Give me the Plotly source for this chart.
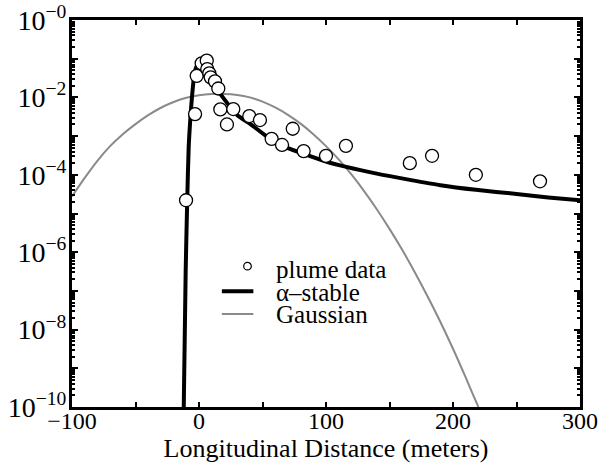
import plotly.graph_objects as go

# plume data (x in meters, concentration)
plume_x = [-10.2, -3.1, -1.8, 2.1, 6.1, 6.5, 8.1, 9.2, 12.6, 15.2, 16.8, 27.0, 22.0,
           39.6, 48.0, 73.8, 57.2, 65.4, 82.4, 100.0, 115.7, 166.0, 183.5, 218.0, 268.5]
plume_y = [2.2e-5, 3.7e-3, 3.6e-2, 7.6e-2, 8.9e-2, 5.4e-2, 4.2e-2, 3.3e-2, 2.6e-2, 1.7e-2,
           4.9e-3, 5.0e-3, 2.0e-3, 3.3e-3, 2.6e-3, 1.55e-3, 8.5e-4, 5.9e-4, 4.1e-4, 3.1e-4,
           5.6e-4, 2.0e-4, 3.1e-4, 1.0e-4, 6.8e-5]

# alpha-stable fit curve
stable_x = [-12.0, -10.5, -9.3, -8.1, -6.5, -5.5, -4.2, -2.5, -0.5, 2.0, 5.0, 10.0, 14.0,
            20.0, 30.0, 40.0, 53.0, 66.0, 82.0, 100.0, 116.0, 140.0, 166.0, 190.0, 218.0,
            250.0, 275.0, 300.0]
stable_y = [1e-10, 3.2e-7, 2.0e-5, 5.4e-4, 4.0e-3, 1.05e-2, 2.8e-2, 5.6e-2, 7.9e-2, 8.3e-2,
            6.3e-2, 3.2e-2, 1.7e-2, 8.9e-3, 3.5e-3, 2.1e-3, 1.0e-3, 5.6e-4, 3.5e-4, 2.2e-4,
            1.6e-4, 1.07e-4, 7.4e-5, 5.4e-5, 4.1e-5, 3.2e-5, 2.6e-5, 2.2e-5]

# Gaussian fit curve
gauss_x = [-100, -90, -80, -70, -60, -50, -40, -30, -20, -10, 0, 10, 20, 30, 40, 50, 60,
           70, 80, 90, 100, 110, 120, 130, 140, 150, 160, 170, 180, 190, 200, 210, 216, 220]
gauss_y = [2.75e-5, 8.3e-5, 2.3e-4, 5.5e-4, 1.12e-3, 2.04e-3, 3.47e-3, 5.4e-3, 7.6e-3,
           9.8e-3, 1.135e-2, 1.22e-2, 1.23e-2, 1.16e-2, 1.0e-2, 7.8e-3, 5.5e-3, 3.55e-3,
           2.1e-3, 1.12e-3, 5.5e-4, 2.5e-4, 1.02e-4, 3.8e-5, 1.29e-5, 4.0e-6, 1.15e-6,
           3.0e-7, 7.2e-8, 1.6e-8, 3.2e-9, 5.8e-10, 2.0e-10, 1e-10]

legend_labels = ["plume data", "\u03b1\u2013stable", "Gaussian"]

x_tickvals = [-100, -50, 0, 50, 100, 150, 200, 250, 300]
x_ticktext = ["\u2212100", "", "0", "", "100", "", "200", "", "300"]
y_exponents = list(range(-10, 1))
y_ticktext = [("10<sup>\u2212%d</sup>" % (-e)) if e % 2 == 0 else "" for e in y_exponents]

FONT = "Liberation Serif"
FS = 26
LEG_FS = 25
GRAY = "#8a8a8a"

fig = go.Figure()
fig.add_trace(go.Scatter(x=gauss_x, y=gauss_y, mode="lines", name=legend_labels[2],
                         line=dict(color=GRAY, width=2, shape="spline", smoothing=0.8),
                         showlegend=False))
fig.add_trace(go.Scatter(x=stable_x, y=stable_y, mode="lines", name=legend_labels[1],
                         line=dict(color="black", width=4, shape="spline", smoothing=0.6),
                         showlegend=False))
fig.add_trace(go.Scatter(x=plume_x, y=plume_y, mode="markers", name=legend_labels[0],
                         marker=dict(symbol="circle", size=13, color="white",
                                     line=dict(color="black", width=1.3)),
                         showlegend=False))

# hand-built compact legend (paper coordinates of the plot area)
leg_text_x = 0.398
leg_rows_y = [0.356, 0.297, 0.238]
sym_x0, sym_x1 = 0.295, 0.357
shapes = [
    dict(type="circle", xref="paper", yref="paper",
         x0=0.3455 - 0.0075, x1=0.3455 + 0.0075,
         y0=leg_rows_y[0] + 0.008 - 0.0098, y1=leg_rows_y[0] + 0.008 + 0.0098,
         line=dict(color="black", width=1.2), fillcolor="white"),
    dict(type="line", xref="paper", yref="paper", x0=sym_x0, x1=sym_x1,
         y0=leg_rows_y[1] + 0.002, y1=leg_rows_y[1] + 0.002, line=dict(color="black", width=4)),
    dict(type="line", xref="paper", yref="paper", x0=sym_x0, x1=sym_x1,
         y0=leg_rows_y[2] + 0.002, y1=leg_rows_y[2] + 0.002, line=dict(color=GRAY, width=2)),
]
annotations = [
    dict(text=lbl, xref="paper", yref="paper", x=leg_text_x, y=yy, xanchor="left",
         yanchor="middle", showarrow=False, font=dict(family=FONT, size=LEG_FS, color="black"))
    for lbl, yy in zip(legend_labels, leg_rows_y)
]

minor_vals = [m * 10.0 ** e for e in range(-10, 0) for m in range(2, 10)]

fig.update_layout(
    width=603, height=468,
    margin=dict(l=72, r=23, t=20, b=61, autoexpand=False),
    paper_bgcolor="white", plot_bgcolor="white",
    font=dict(family=FONT, size=FS, color="black"),
    showlegend=False,
    shapes=shapes,
    annotations=annotations,
    xaxis=dict(range=[-100, 300], tickmode="array", tickvals=x_tickvals, ticktext=x_ticktext,
               ticks="inside", ticklen=5, tickwidth=2, tickcolor="black",
               showline=True, linewidth=3, linecolor="black", mirror="allticks",
               showgrid=False, zeroline=False, automargin=False,
               ticklabeloverflow="allow",
               tickfont=dict(family=FONT, size=24), ticklabelstandoff=-10,
               title=dict(text="Longitudinal Distance (meters)", standoff=0,
                          font=dict(family=FONT, size=FS))),
    yaxis=dict(type="log", range=[-10, 0], tickmode="array",
               tickvals=[10.0 ** e for e in y_exponents], ticktext=y_ticktext,
               ticks="inside", ticklen=6, tickwidth=2, tickcolor="black",
               minor=dict(tickmode="array", tickvals=minor_vals, ticks="inside",
                          ticklen=3, tickwidth=1.5, tickcolor="black"),
               showline=True, linewidth=3, linecolor="black", mirror="allticks",
               showgrid=False, zeroline=False, automargin=False,
               ticklabeloverflow="allow",
               tickfont=dict(family=FONT, size=28), ticklabelstandoff=-3),
)

fig.write_html("out.html", config={"displayModeBar": False},
               post_script="document.body.style.margin='0';document.body.style.overflow='hidden';")
